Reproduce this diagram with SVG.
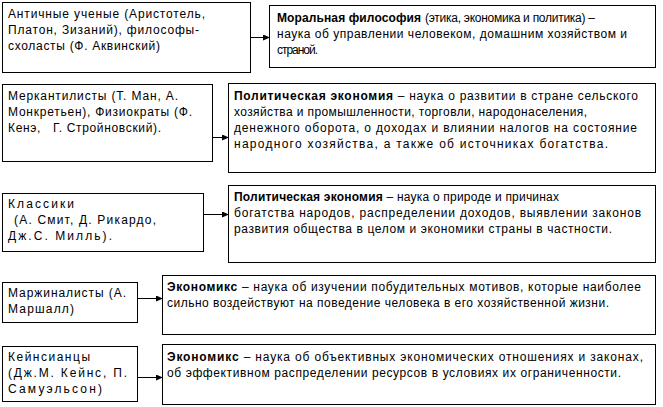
<svg xmlns="http://www.w3.org/2000/svg" width="663" height="407" viewBox="0 0 663 407">
<style>
.box{fill:#fff;stroke:#000;stroke-width:1}
text{font-family:"Liberation Sans",Arial,sans-serif;font-size:12px;fill:#000;white-space:pre}
.b{font-weight:bold}
.con line{stroke:#000;stroke-width:1}
</style>
<defs>
<marker id="ah" markerWidth="7" markerHeight="6" refX="6" refY="3" orient="auto" markerUnits="userSpaceOnUse">
<path d="M0,0 L7,3 L0,6 Z" fill="#000"/>
</marker>
</defs>
<rect width="663" height="407" fill="#fff"/>
<g id="connectors" class="con">
<line x1="251" y1="37.5" x2="269" y2="37.5" marker-end="url(#ah)"/>
<line x1="212" y1="137.5" x2="228" y2="137.5" marker-end="url(#ah)"/>
<line x1="204" y1="214.5" x2="228" y2="214.5" marker-end="url(#ah)"/>
<line x1="138" y1="298.5" x2="162" y2="298.5" marker-end="url(#ah)"/>
<line x1="138" y1="377.5" x2="162" y2="377.5" marker-end="url(#ah)"/>
</g>
<g id="n-ancient">
<rect class="box" x="2.5" y="2.5" width="248" height="70"/>
<text x="8" y="18" textLength="197" lengthAdjust="spacing">Античные ученые (Аристотель,</text>
<text x="8" y="34" textLength="191" lengthAdjust="spacing">Платон, Зизаний), философы-</text>
<text x="8" y="50" textLength="152" lengthAdjust="spacing">схоласты (Ф. Аквинский)</text>
</g>
<g id="n-moral">
<rect class="box" x="269.5" y="5.5" width="386" height="62"/>
<text x="277" y="22" class="b" textLength="144" lengthAdjust="spacing">Моральная философия</text>
<text x="425" y="22" textLength="170" lengthAdjust="spacing">(этика, экономика и политика) –</text>
<text x="277" y="38" textLength="350" lengthAdjust="spacing">наука об управлении человеком, домашним хозяйством и</text>
<text x="277" y="54" textLength="41" lengthAdjust="spacing">страной.</text>
</g>
<g id="n-merc">
<rect class="box" x="2.5" y="84.5" width="210" height="77"/>
<text x="8" y="100" textLength="170" lengthAdjust="spacing">Меркантилисты (Т. Ман, А.</text>
<text x="8" y="116" textLength="184" lengthAdjust="spacing">Монкретьен), Физиократы (Ф.</text>
<text x="8" y="132" textLength="153" lengthAdjust="spacing">Кенэ,   Г. Стройновский).</text>
</g>
<g id="n-polec1">
<rect class="box" x="228.5" y="83.5" width="427" height="89"/>
<text x="234" y="100" textLength="404" lengthAdjust="spacing"><tspan class="b">Политическая экономия</tspan> – наука о развитии в стране сельского</text>
<text x="234" y="116" textLength="353" lengthAdjust="spacing">хозяйства и промышленности, торговли, народонаселения,</text>
<text x="234" y="132" textLength="403" lengthAdjust="spacing">денежного оборота, о доходах и влиянии налогов на состояние</text>
<text x="234" y="148" textLength="374" lengthAdjust="spacing">народного хозяйства, а также об источниках богатства.</text>
</g>
<g id="n-classic">
<rect class="box" x="2.5" y="193.5" width="201" height="58"/>
<text x="8" y="208" textLength="66" lengthAdjust="spacing">Классики</text>
<text x="14" y="224" textLength="142" lengthAdjust="spacing">(А. Смит, Д. Рикардо,</text>
<text x="8" y="240" textLength="104" lengthAdjust="spacing">Дж.С. Милль).</text>
</g>
<g id="n-polec2">
<rect class="box" x="228.5" y="185.5" width="427" height="77"/>
<text x="234" y="201" textLength="325" lengthAdjust="spacing"><tspan class="b">Политическая экономия</tspan> – наука о природе и причинах</text>
<text x="234" y="217" textLength="407" lengthAdjust="spacing">богатства народов, распределении доходов, выявлении законов</text>
<text x="234" y="233" textLength="378" lengthAdjust="spacing">развития общества в целом и экономики страны в частности.</text>
</g>
<g id="n-marg">
<rect class="box" x="2.5" y="282.5" width="135" height="40"/>
<text x="8" y="297" textLength="118" lengthAdjust="spacing">Маржиналисты (А.</text>
<text x="8" y="313" textLength="66" lengthAdjust="spacing">Маршалл)</text>
</g>
<g id="n-econ1">
<rect class="box" x="162.5" y="275.5" width="493" height="59"/>
<text x="167" y="291" textLength="474" lengthAdjust="spacing"><tspan class="b">Экономикс</tspan> – наука об изучении побудительных мотивов, которые наиболее</text>
<text x="167" y="307" textLength="442" lengthAdjust="spacing">сильно воздействуют на поведение человека в его хозяйственной жизни.</text>
</g>
<g id="n-keynes">
<rect class="box" x="2.5" y="346.5" width="135" height="55"/>
<text x="8" y="361" textLength="82" lengthAdjust="spacing">Кейнсианцы</text>
<text x="8" y="377" textLength="119" lengthAdjust="spacing">(Дж.М. Кейнс, П.</text>
<text x="8" y="393" textLength="94" lengthAdjust="spacing">Самуэльсон)</text>
</g>
<g id="n-econ2">
<rect class="box" x="162.5" y="344.5" width="493" height="60"/>
<text x="167" y="361" textLength="476" lengthAdjust="spacing"><tspan class="b">Экономикс</tspan> – наука об объективных экономических отношениях и законах,</text>
<text x="167" y="377" textLength="454" lengthAdjust="spacing">об эффективном распределении ресурсов в условиях их ограниченности.</text>
</g>
</svg>
